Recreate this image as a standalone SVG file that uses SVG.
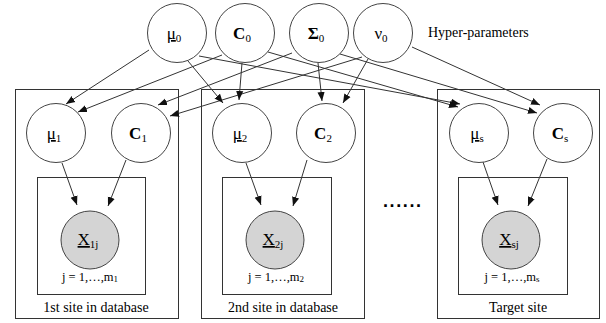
<svg xmlns="http://www.w3.org/2000/svg" width="606" height="323" viewBox="0 0 606 323" font-family="'Liberation Serif', 'Times New Roman', serif">
<style>
.n{fill:#fff;stroke:#444;stroke-width:1}
.o{fill:#d4d4d4;stroke:#444;stroke-width:1}
.b{fill:none;stroke:#333;stroke-width:1}
text{fill:#000}
.v{font-size:17px;text-anchor:middle}
.s{font-size:11px}
.l{font-size:14px;text-anchor:middle}
.j{font-size:12.5px;text-anchor:middle}
.e{stroke:#333;stroke-width:1;fill:none;marker-end:url(#a)}
</style>
<defs>
<marker id="a" viewBox="0 0 10 10" refX="10" refY="5" markerWidth="9" markerHeight="9" markerUnits="userSpaceOnUse" orient="auto">
<path d="M0,1 L10,5 L0,9 z" fill="#111"/>
</marker>
</defs>
<rect width="606" height="323" fill="#fff"/>
<g id="plates">
<rect class="b" x="15.5" y="89.5" width="163" height="229"/>
<rect class="b" x="201.5" y="89.5" width="163" height="229"/>
<rect class="b" x="437.5" y="89.5" width="162" height="229"/>
<rect class="b" x="37.5" y="177.5" width="108" height="117"/>
<rect class="b" x="222.5" y="177.5" width="109" height="117"/>
<rect class="b" x="458.5" y="177.5" width="109" height="117"/>
<text class="l" x="96" y="312">1st site in database</text>
<text class="l" x="283" y="312">2nd site in database</text>
<text class="l" x="518" y="312">Target site</text>
<text class="j" x="90" y="281">j = 1,…,m<tspan font-size="9" dy="1">1</tspan></text>
<text class="j" x="276" y="281">j = 1,…,m<tspan font-size="9" dy="1">2</tspan></text>
<text class="j" x="512" y="281">j = 1,…,m<tspan font-size="9" dy="1">s</tspan></text>
</g>
<g id="connectors">
<line class="e" x1="149" y1="50" x2="66" y2="104"/>
<line class="e" x1="222" y1="55" x2="78" y2="112"/>
<line class="e" x1="292" y1="53" x2="158" y2="105"/>
<line class="e" x1="362" y1="57" x2="170" y2="116"/>
<line class="e" x1="188" y1="61" x2="223" y2="103"/>
<line class="e" x1="242" y1="63" x2="239" y2="100"/>
<line class="e" x1="199" y1="56" x2="460" y2="104"/>
<line class="e" x1="268" y1="52" x2="458" y2="107"/>
<line class="e" x1="318" y1="63" x2="322" y2="101"/>
<line class="e" x1="368" y1="59" x2="343" y2="103"/>
<line class="e" x1="340" y1="54" x2="537" y2="113"/>
<line class="e" x1="412" y1="47" x2="540" y2="105"/>
<line class="e" x1="62" y1="163" x2="77" y2="205"/>
<line class="e" x1="126" y1="160" x2="108" y2="206"/>
<line class="e" x1="246" y1="163" x2="261" y2="205"/>
<line class="e" x1="307" y1="160" x2="293" y2="206"/>
<line class="e" x1="483" y1="162" x2="498" y2="205"/>
<line class="e" x1="547" y1="159" x2="528" y2="206"/>
</g>
<g id="mu0"><circle class="n" cx="177" cy="33" r="29.5"/><text class="v" x="174" y="39"><tspan text-decoration="underline">μ</tspan><tspan class="s" dy="3">0</tspan></text></g>
<g id="C0"><circle class="n" cx="245" cy="33" r="29.5"/><text class="v" x="242" y="39" font-weight="bold">C<tspan class="s" font-weight="normal" dy="3">0</tspan></text></g>
<g id="Sigma0"><circle class="n" cx="319" cy="33" r="29.5"/><text class="v" x="316" y="39" font-weight="bold">Σ<tspan class="s" font-weight="normal" dy="3">0</tspan></text></g>
<g id="nu0"><circle class="n" cx="383" cy="33" r="29.5"/><text class="v" x="381" y="39">ν<tspan class="s" dy="3">0</tspan></text></g>
<text x="428" y="37" font-size="14">Hyper-parameters</text>
<g id="mu1"><circle class="n" cx="56" cy="133" r="29.5"/><text class="v" x="54" y="139"><tspan text-decoration="underline">μ</tspan><tspan class="s" dy="3">1</tspan></text></g>
<g id="C1"><circle class="n" cx="141" cy="133" r="29.5"/><text class="v" x="138" y="139" font-weight="bold">C<tspan class="s" font-weight="normal" dy="3">1</tspan></text></g>
<g id="mu2"><circle class="n" cx="242" cy="133" r="29.5"/><text class="v" x="240" y="139"><tspan text-decoration="underline">μ</tspan><tspan class="s" dy="3">2</tspan></text></g>
<g id="C2"><circle class="n" cx="326" cy="133" r="29.5"/><text class="v" x="323" y="139" font-weight="bold">C<tspan class="s" font-weight="normal" dy="3">2</tspan></text></g>
<g id="mus"><circle class="n" cx="479" cy="133" r="29.5"/><text class="v" x="477" y="139"><tspan text-decoration="underline">μ</tspan><tspan class="s" dy="3">s</tspan></text></g>
<g id="Cs"><circle class="n" cx="563" cy="133" r="29.5"/><text class="v" x="560" y="139" font-weight="bold">C<tspan class="s" font-weight="normal" dy="3">s</tspan></text></g>
<g id="X1"><circle class="o" cx="90" cy="240" r="29"/><text class="v" x="88" y="245"><tspan text-decoration="underline">X</tspan><tspan class="s" dy="3">1j</tspan></text></g>
<g id="X2"><circle class="o" cx="275" cy="240" r="29"/><text class="v" x="273" y="245"><tspan text-decoration="underline">X</tspan><tspan class="s" dy="3">2j</tspan></text></g>
<g id="Xs"><circle class="o" cx="511" cy="240" r="29"/><text class="v" x="509" y="245"><tspan text-decoration="underline">X</tspan><tspan class="s" dy="3">sj</tspan></text></g>
<text x="383" y="207" font-size="18" font-weight="bold" letter-spacing="1.6" font-family="'Liberation Sans', sans-serif">......</text>
</svg>
